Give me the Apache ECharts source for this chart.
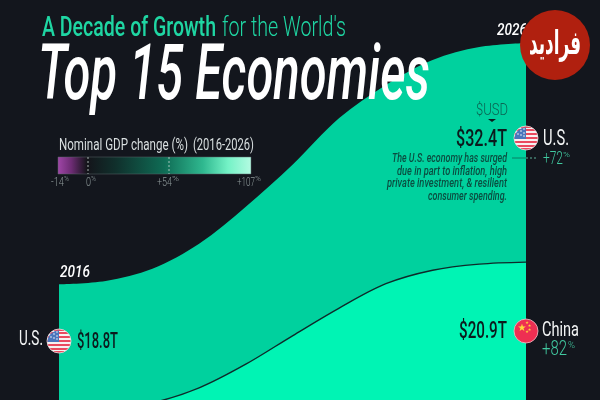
<!DOCTYPE html>
<html><head><meta charset="utf-8">
<style>html,body{margin:0;padding:0;background:#13161d}#c{width:600px;height:400px}</style>
<script src="https://cdn.jsdelivr.net/npm/echarts@6/dist/echarts.min.js"></script>
</head><body><div id="c"></div>
<script>
const years = ['2016','2017','2018','2019','2020','2021','2022','2023','2024','2025','2026'];
// Upper edge of each stream band, trillions USD above the picture's lower edge
const usUpper = [17.1,17.6,19.4,23.1,28.6,34.8,41.7,46.6,50.3,52.2,52.8];
const chinaUpper = [-1.6,-1.2,-0.4,1.8,5.3,9.5,13.6,17.2,19.2,20.1,20.4];
const legendTicks = ['-14','0','+54','+107'];
const note = ['The U.S. economy has surged','due in part to inflation, high','private investment, & resilient','consumer spending.'];

const BG='#13161d', US='#00d19e', CN='#00f4b4', INK='#0b1b1d', MINT='#1fd6a3', PALE='#41c9a0';
const FONT='Roboto';
const ctx=document.createElement('canvas').getContext('2d');
function txt(s,l,r,cy,size,fill,o={}){
  const weight=o.weight||400, st=o.italic?'italic':'normal', fam=o.family||FONT;
  ctx.font=`${st} ${weight} ${size}px "${fam}"`;
  const w=ctx.measureText(s).width;
  return {type:'text',z:o.z||100,silent:true,x:l,y:cy+size*0.065,scaleX:(r-l)/w,scaleY:o.scaleY||1,
    style:{text:s,x:0,y:0,fill,font:`${st} ${weight} ${size}px "${fam}"`,align:'left',verticalAlign:'middle'}};
}
function usFlag(cx,cy,r){
  const stops=[],n=13;
  for(let i=0;i<n;i++){const c=i%2?'#f7f1f1':'#ea4a5f';stops.push({offset:i/n,color:c},{offset:(i+1)/n,color:c});}
  const els=[
    {type:'circle',z:100,silent:true,shape:{cx,cy,r},style:{fill:{type:'linear',x:0,y:0,x2:0,y2:1,colorStops:stops},stroke:'#e9dfe2',lineWidth:.8}},
    {type:'sector',z:101,silent:true,shape:{cx,cy:cy+1,r:r-.5,r0:0,startAngle:Math.PI,endAngle:Math.PI*1.5},style:{fill:'#4a76bd'}}
  ];
  [[-8,-4],[-5,-7],[-2,-9],[-5,-3],[-2,-5],[-2,-2]].forEach(([a,b])=>els.push({type:'circle',z:102,silent:true,shape:{cx:cx+a,cy:cy+b,r:.8},style:{fill:'#f5f5f5'}}));
  return els;
}
function cnFlag(cx,cy,r){
  const star=(x,y,s)=>({type:'text',z:102,silent:true,x,y,style:{text:'★',x:0,y:0,fill:'#ffd93b',font:`${s}px "DejaVu Sans"`,align:'center',verticalAlign:'middle'}});
  return [
    {type:'circle',z:100,silent:true,shape:{cx,cy,r},style:{fill:'#ee2f52',stroke:'#ecc0c8',lineWidth:.8}},
    star(cx-4,cy-3,10),star(cx+1,cy-8,4),star(cx+3.5,cy-5,4),star(cx+3.5,cy-1.5,4),star(cx+1,cy+1,4)
  ];
}
const g=[];
g.push(txt('A Decade of Growth',42,216,27,28,MINT,{weight:500}));
g.push(txt("for the World's",222,346,27,28,MINT,{weight:300}));
g.push(txt('Top 15 Economies',38,430,74.5,77,'#ffffff',{weight:500,italic:true}));
// legend
g.push(txt('Nominal GDP change (%)',59,188,145,16,'#d9dfe0'));
g.push(txt('(2016-2026)',193,254,145,16,'#d9dfe0'));
g.push({type:'rect',z:100,silent:true,shape:{x:58,y:157,width:193,height:17},style:{
  fill:{type:'linear',x:0,y:0,x2:1,y2:0,colorStops:[
    {offset:0,color:'#a046a8'},{offset:.07,color:'#6d2c74'},{offset:.15,color:'#14141a'},{offset:.3,color:'#10302c'},
    {offset:.55,color:'#0f6c55'},{offset:.75,color:'#2fb88f'},{offset:.88,color:'#74f2c6'},{offset:1,color:'#b4fbe2'}]},
  stroke:'#5b6468',lineWidth:.5}});
[88,169].forEach(x=>g.push({type:'line',z:101,silent:true,shape:{x1:x,y1:157,x2:x,y2:174},style:{stroke:'#c9d6d2',lineWidth:.8,lineDash:[2,2]}}));
[[51,64,69],[86,91,96],[157,172,179],[237,255,261]].forEach((p,i)=>{
  g.push(txt(legendTicks[i],p[0],p[1],182,13,'#8d9899',{weight:300}));
  g.push(txt('%',p[1],p[2],179,7,'#8d9899',{weight:300}));
});
// 2016 side
g.push(txt('2016',60,90,272,17,'#ffffff',{italic:true,weight:500}));
g.push(txt('U.S.',19,43,339,20,'#f2f4f4'));
g.push(...usFlag(59,341,12));
g.push(txt('$18.8T',77,118,341,22,INK,{weight:500}));
// 2026 side
g.push(txt('2026',497,527,30,17,'#ffffff',{italic:true,weight:500}));
g.push(txt('$USD',476,508,110,17,'#0a6553',{weight:300}));
g.push({type:'polygon',z:100,silent:true,shape:{points:[[488,119],[496,119],[492,122]]},style:{fill:INK}});
g.push(txt('$32.4T',456,507,138,24,INK,{weight:500}));
g.push(...usFlag(526,138,12));
g.push(txt('U.S.',543,569,138,22,'#f2f4f4'));
g.push(txt('+72',543,563,158,18,PALE,{weight:300}));
g.push(txt('%',563,570,154,8,PALE,{weight:300}));
g.push({type:'line',z:99,silent:true,shape:{x1:512,y1:158,x2:526,y2:158},style:{stroke:'#0a6a55',lineWidth:.8}});
g.push({type:'line',z:99,silent:true,shape:{x1:526,y1:158,x2:538,y2:158},style:{stroke:'#6fd8b8',lineWidth:.8,lineDash:[2,2]}});
const noteX=[392,397,387,428], noteY=[158,171,183,196];
note.forEach((s,i)=>g.push(txt(s,noteX[i],507,noteY[i],12,'#0a4d40',{italic:true,weight:500})));
g.push(txt('$20.9T',459,507,330,24,INK,{weight:500}));
g.push(...cnFlag(526,331,12));
g.push(txt('China',542,579,330,20,'#f2f4f4'));
g.push(txt('+82',542,567,349,20,PALE,{weight:300}));
g.push(txt('%',568,575,345,9,PALE,{weight:300}));
// watermark
g.push({type:'circle',z:110,silent:true,shape:{cx:555,cy:45,r:35},style:{fill:'#b0200f'}});
g.push(txt('فرادید',529,581,43,30,'#ffffff',{family:'DejaVu Sans',weight:700,z:111,scaleY:1.1}));

const chart=echarts.init(document.getElementById('c'),null,{renderer:'canvas'});
chart.setOption({
  animation:false,backgroundColor:BG,
  grid:{left:59,right:74,top:0,bottom:0},
  xAxis:{type:'category',data:years,boundaryGap:false,show:false},
  yAxis:{type:'value',min:0,max:59.17,show:false},
  series:[
    {name:'U.S.',type:'line',data:usUpper,smooth:.33,symbol:'none',lineStyle:{width:0},areaStyle:{color:US,opacity:1,origin:'start'},z:2},
    {name:'China',type:'line',data:chinaUpper,smooth:.33,symbol:'none',lineStyle:{width:1.4,color:'#0e2a2a'},areaStyle:{color:CN,opacity:1,origin:'start'},z:3}
  ],
  graphic:{elements:g}
});
</script></body></html>
